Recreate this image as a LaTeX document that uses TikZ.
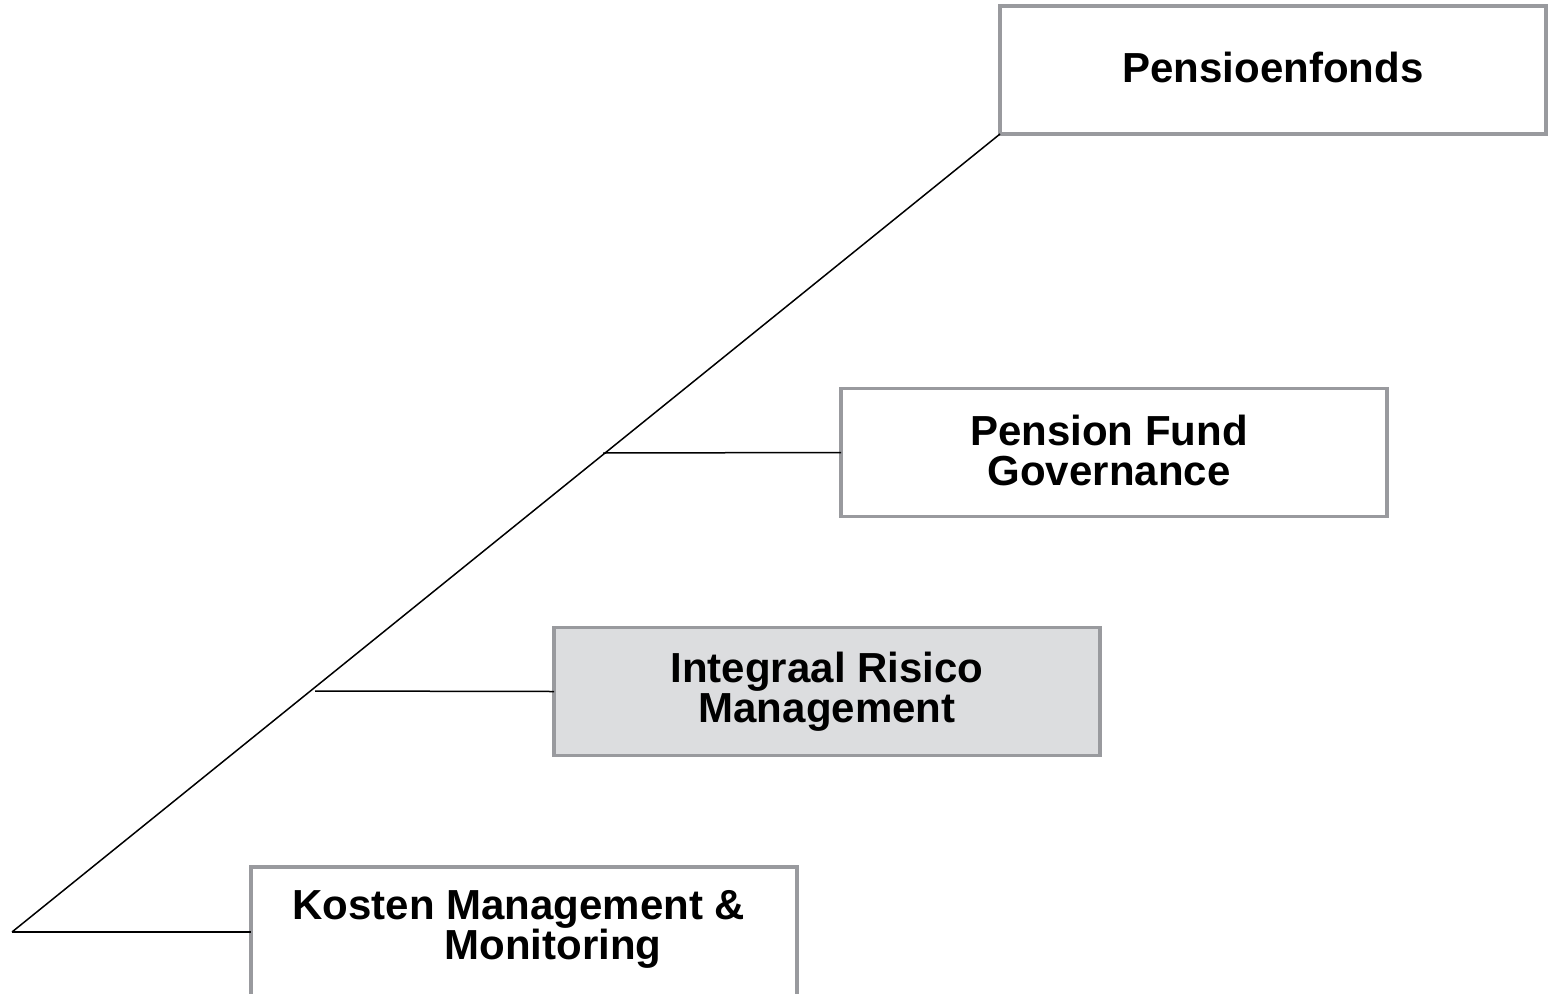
\documentclass[tikz,border=0pt]{standalone}
\usepackage{fontspec}
\setmainfont{Liberation Sans}
\usetikzlibrary{calc}
\definecolor{boxline}{RGB}{153,154,158}
\definecolor{boxfill}{RGB}{220,221,223}
\begin{document}
\begin{tikzpicture}[x=1pt,y=-1pt,
  box/.style={draw=boxline, line width=3.5pt, fill=white, minimum width=546pt, minimum height=128pt, inner sep=0pt, outer sep=0pt},
  lbl/.style={font=\fontsize{42}{40}\selectfont\bfseries, align=center, inner sep=0pt},
  conn/.style={draw=black, line width=1.5pt}]
\useasboundingbox (0,0) rectangle (1552,993);
\clip (0,0) rectangle (1552,993);
\node[box] (p) at (1273,70) {};
\node[lbl] at ($(p.center)+(0,-3)$) {Pensioenfonds};
\node[box] (g) at (1114,452.5) {};
\node[lbl] at ($(g.center)+(-5,-2)$) {Pension Fund\\Governance};
\node[box, fill=boxfill] (r) at (827,691.5) {};
\node[lbl] at ($(r.center)+(0,0)$) {Integraal Risico\\Management};
\node[box, minimum height=130pt] (k) at (524,932) {};
\node[lbl] at (519,929) {Kosten Management \&\\\hspace*{68pt}Monitoring};
\coordinate (base) at (12,932);
\coordinate (cg) at (603,453);
\coordinate (cr) at (315,691);
\draw[conn] (p.south west) -- (base);
\draw[conn] (cg) -- (g.west);
\draw[conn] (cr) -- (r.west);
\draw[conn] (base) -- (k.west);
\end{tikzpicture}
\end{document}
